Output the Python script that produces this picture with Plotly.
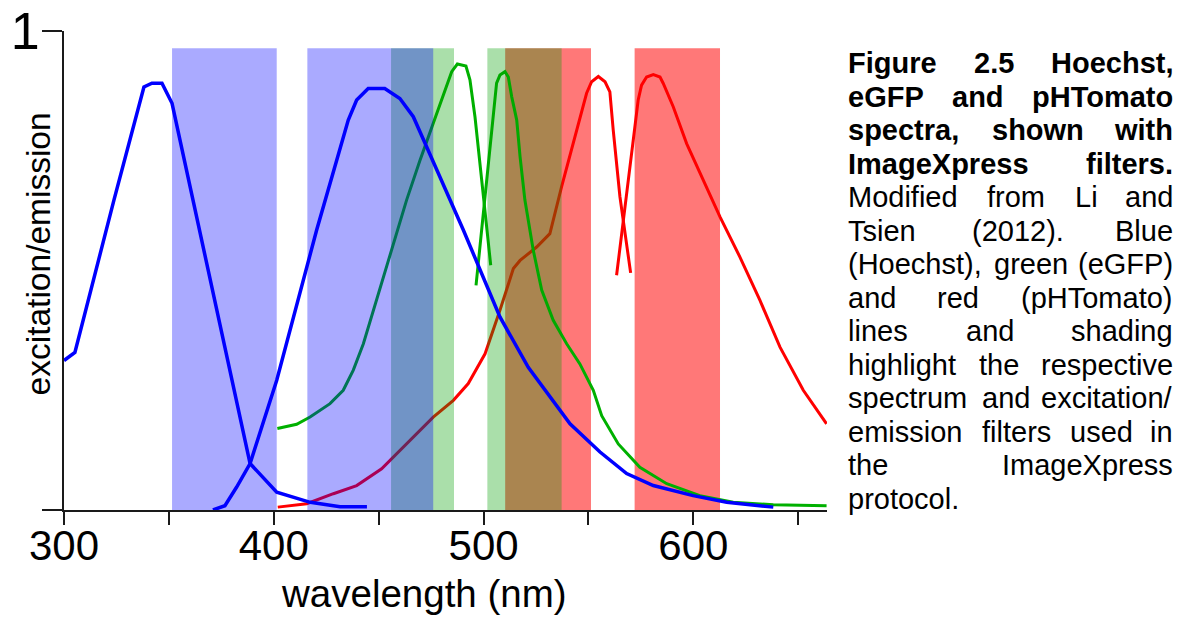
import plotly.graph_objects as go

# ---------------- data (wavelength nm, normalised intensity) ----------------
hoechst_ex_nm = [300, 305.2, 323.8, 338.1, 341.9, 346.7, 351.5, 361.5, 388.7, 401.4, 417.4, 431.6, 444.4]
hoechst_ex_v = [0.312, 0.329, 0.647, 0.883, 0.891, 0.891, 0.849, 0.647, 0.097, 0.037, 0.016, 0.007, 0.007]

hoechst_em_nm = [371.0, 376.7, 382.3, 388.7, 401.4, 420.4, 435.5, 439.5, 445.0, 452.9, 460.1, 466.5,
                 472.9, 490.3, 507.8, 521.3, 541.2, 555.5, 568.2, 580.9, 599.9, 615.9, 638.1]
hoechst_em_v = [0.0, 0.009, 0.048, 0.097, 0.271, 0.584, 0.814, 0.856, 0.880, 0.880, 0.859, 0.821,
                0.758, 0.585, 0.403, 0.298, 0.180, 0.121, 0.076, 0.051, 0.030, 0.016, 0.006]

egfp_ex_nm = [401.7, 410.9, 417.3, 426.8, 433.1, 437.9, 442.7, 449.0, 455.4, 463.3, 469.7, 484.8,
              487.5, 491.6, 493.5, 495.9, 503.4]
egfp_ex_v = [0.170, 0.179, 0.194, 0.222, 0.250, 0.292, 0.347, 0.438, 0.535, 0.647, 0.730, 0.915,
             0.931, 0.927, 0.898, 0.821, 0.511]

egfp_em_nm = [496.4, 499.1, 502.2, 506.2, 507.8, 510.2, 511.8, 513.4, 515.8, 517.4, 519.7, 523.7,
              527.7, 533.2, 539.6, 545.9, 552.3, 556.3, 564.2, 574.5, 587.3, 603.1, 619.0, 638.1, 663.5]
egfp_em_v = [0.469, 0.584, 0.723, 0.891, 0.908, 0.915, 0.904, 0.863, 0.814, 0.737, 0.647, 0.542,
             0.459, 0.396, 0.347, 0.305, 0.250, 0.197, 0.138, 0.089, 0.055, 0.030, 0.016, 0.011, 0.009]

pht_ex_nm = [401.9, 415.7, 428.4, 439.5, 451.4, 463.3, 476.0, 485.6, 492.7, 500.7, 507.8, 514.2,
             517.4, 525.3, 531.6, 537.2, 549.1, 551.5, 554.7, 557.9, 560.2, 561.8, 565.0, 570.1]
pht_ex_v = [0.006, 0.013, 0.034, 0.051, 0.086, 0.138, 0.194, 0.229, 0.264, 0.326, 0.417, 0.504,
            0.521, 0.549, 0.577, 0.675, 0.870, 0.894, 0.905, 0.894, 0.873, 0.793, 0.654, 0.495]

pht_em_nm = [563.4, 566.6, 573.7, 575.3, 577.7, 580.9, 584.1, 585.6, 590.4, 596.8, 604.7, 612.7,
             622.2, 631.7, 641.3, 652.4, 663.5]
pht_em_v = [0.490, 0.605, 0.856, 0.887, 0.904, 0.909, 0.904, 0.891, 0.842, 0.765, 0.689, 0.612,
            0.528, 0.438, 0.340, 0.250, 0.180]

# filter bands (start nm, end nm)
blue_band_start = [351.5, 416.0]
blue_band_end = [401.4, 476.0]
green_band_start = [455.9, 501.8]
green_band_end = [485.9, 537.2]
red_band_start = [510.3, 572.0]
red_band_end = [551.2, 612.7]
band_top = 0.964

x_tick_vals = [300, 350, 400, 450, 500, 550, 600, 650]
x_tick_text = ["300", "", "400", "", "500", "", "600", ""]
y_tick_vals = [0, 1]
y_tick_text = ["", "1"]

caption_lines = [
    (["Figure", "2.5", "Hoechst,"], True, True),
    (["eGFP", "and", "pHTomato"], True, True),
    (["spectra,", "shown", "with"], True, True),
    (["ImageXpress", "filters."], True, True),
    (["Modified", "from", "Li", "and"], False, True),
    (["Tsien", "(2012).", "Blue"], False, True),
    (["(Hoechst),", "green", "(eGFP)"], False, True),
    (["and", "red", "(pHTomato)"], False, True),
    (["lines", "and", "shading"], False, True),
    (["highlight", "the", "respective"], False, True),
    (["spectrum", "and", "excitation/"], False, True),
    (["emission", "filters", "used", "in"], False, True),
    (["the", "ImageXpress"], False, True),
    (["protocol."], False, False),
]

# ---------------- layout geometry ----------------
W, H = 1183, 623
ML, MR, MT, MB = 64, 356, 31, 113
PW = W - ML - MR
PH = H - MT - MB


def xp(px):
    return (px - ML) / PW


def yp(py):
    return 1 - (py - MT) / PH


BLUE = "rgb(0,0,255)"
GREEN = "rgb(0,176,0)"
RED = "rgb(255,0,0)"
AX = "#1a1a1a"
FONT = "Liberation Sans, Arial, sans-serif"

fig = go.Figure()


def add_line(x, y, color, width):
    fig.add_trace(go.Scatter(x=x, y=y, mode="lines", line=dict(color=color, width=width),
                             hoverinfo="skip", showlegend=False))


def add_bands(starts, ends, color):
    for s, e in zip(starts, ends):
        fig.add_trace(go.Scatter(x=[s, e, e, s, s], y=[0, 0, band_top, band_top, 0], mode="lines",
                                 fill="toself", fillcolor=color, line=dict(width=0),
                                 hoverinfo="skip", showlegend=False))


# draw order: red, green, blue (each line then its shading)
add_line(pht_ex_nm, pht_ex_v, RED, 3)
add_line(pht_em_nm, pht_em_v, RED, 3)
add_bands(red_band_start, red_band_end, "rgba(255,0,0,0.53)")
add_line(egfp_ex_nm, egfp_ex_v, GREEN, 3)
add_line(egfp_em_nm, egfp_em_v, GREEN, 3)
add_bands(green_band_start, green_band_end, "rgba(0,160,0,0.333)")
add_line(hoechst_ex_nm, hoechst_ex_v, BLUE, 3.5)
add_line(hoechst_em_nm, hoechst_em_v, BLUE, 3.5)
add_bands(blue_band_start, blue_band_end, "rgba(0,0,255,0.333)")

# ---------------- caption (justified text) ----------------
REG = {' ': 278, '(': 333, ')': 333, ',': 278, '.': 278, '/': 278,
       'B': 667, 'G': 778, 'H': 722, 'I': 278, 'L': 556, 'M': 833, 'P': 667, 'T': 611, 'X': 667,
       'F': 611, 'E': 667,
       'a': 556, 'b': 556, 'c': 500, 'd': 556, 'e': 556, 'f': 278, 'g': 556, 'h': 556, 'i': 222,
       'j': 222, 'k': 500, 'l': 222, 'm': 833, 'n': 556, 'o': 556, 'p': 556, 'q': 556, 'r': 333,
       's': 500, 't': 278, 'u': 556, 'v': 500, 'w': 722, 'x': 500, 'y': 500, 'z': 500}
BOLD = {' ': 278, ',': 278, '.': 278,
        'F': 611, 'G': 778, 'H': 722, 'I': 278, 'P': 667, 'T': 611, 'X': 667, 'E': 667,
        'a': 556, 'b': 611, 'c': 556, 'd': 611, 'e': 556, 'f': 333, 'g': 611, 'h': 611, 'i': 278,
        'j': 278, 'k': 556, 'l': 278, 'm': 889, 'n': 611, 'o': 611, 'p': 611, 'q': 611, 'r': 389,
        's': 556, 't': 333, 'u': 611, 'v': 556, 'w': 778, 'x': 556, 'y': 556, 'z': 500}
for d in range(10):
    REG[str(d)] = 556
    BOLD[str(d)] = 556

CAP_FS = 29
CAP_L, CAP_R = 847, 1174
CAP_BASE0, CAP_STEP = 73.3, 33.5


def word_w(wd, bold):
    tbl = BOLD if bold else REG
    return sum(tbl.get(c, 556) for c in wd) * CAP_FS / 1000.0


for k, (words, bold, just) in enumerate(caption_lines):
    base = CAP_BASE0 + CAP_STEP * k
    cy = base - 0.3465 * CAP_FS
    widths = [word_w(wd, bold) for wd in words]
    if just and len(words) > 1:
        gap = (CAP_R - CAP_L - sum(widths)) / (len(words) - 1)
    else:
        gap = 278 * CAP_FS / 1000.0
    xpos = CAP_L
    for i, (wd, ww) in enumerate(zip(words, widths)):
        txt = "<b>%s</b>" % wd if bold else wd
        last = just and len(words) > 1 and i == len(words) - 1
        fig.add_annotation(x=xp(CAP_R if last else xpos), y=yp(cy), xref="paper", yref="paper",
                           text=txt, showarrow=False, xanchor="right" if last else "left",
                           yanchor="middle", borderpad=0,
                           font=dict(family=FONT, size=CAP_FS, color="black"))
        xpos += ww + gap

# ---------------- axis titles ----------------
XT_FS, YT_FS = 38.5, 33.5
fig.add_annotation(x=xp(424), y=yp(607 - 0.3465 * XT_FS), xref="paper", yref="paper",
                   text="wavelength (nm)", showarrow=False, xanchor="center", yanchor="middle",
                   borderpad=0, font=dict(family=FONT, size=XT_FS, color="black"))
fig.add_annotation(x=xp(50 - 0.3465 * YT_FS), y=yp(254), xref="paper", yref="paper",
                   text="excitation/emission", showarrow=False, xanchor="center", yanchor="middle",
                   textangle=-90, borderpad=0, font=dict(family=FONT, size=YT_FS, color="black"))

fig.update_layout(
    width=W, height=H,
    margin=dict(l=ML, r=MR, t=MT, b=MB, pad=0, autoexpand=False),
    paper_bgcolor="white", plot_bgcolor="white",
    showlegend=False,
    xaxis=dict(range=[300, 663.7], showgrid=False, zeroline=False, showline=True, automargin=False,
               linecolor=AX, linewidth=2, ticks="outside", ticklen=13, tickwidth=2, tickcolor=AX,
               tickmode="array", tickvals=x_tick_vals, ticktext=x_tick_text, ticklabelstandoff=-15,
               tickfont=dict(family=FONT, size=42, color="black")),
    yaxis=dict(range=[0, 1], showgrid=False, zeroline=False, showline=True, automargin=False,
               linecolor=AX, linewidth=2, ticks="outside", ticklen=20, tickwidth=2, tickcolor=AX,
               tickmode="array", tickvals=y_tick_vals, ticktext=y_tick_text, ticklabelstandoff=-8,
               tickfont=dict(family=FONT, size=52, color="black")),
)

fig.write_html("out.html")
